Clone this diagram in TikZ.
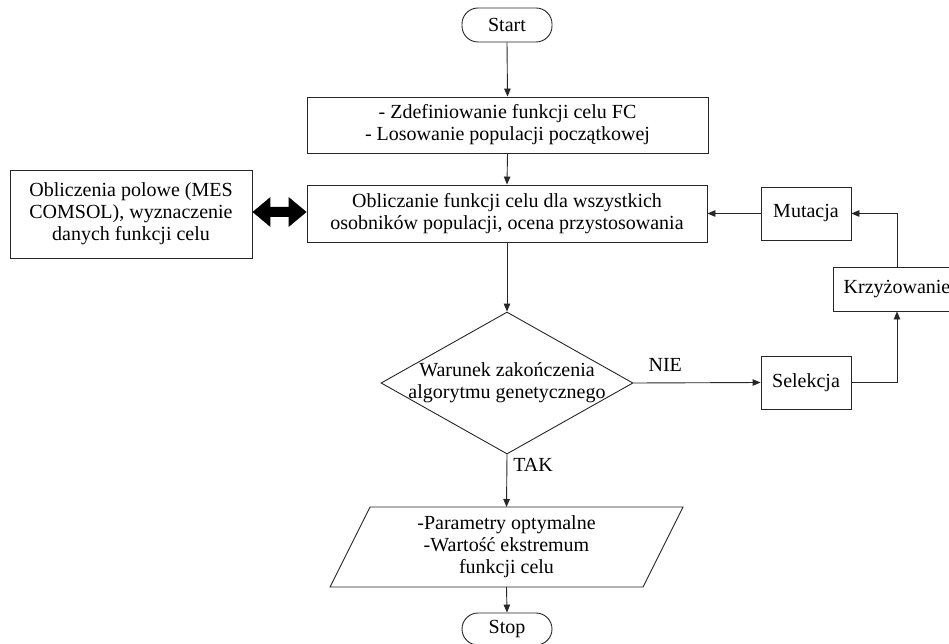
\documentclass[tikz,border=0pt]{standalone}
\usepackage{fontspec}
\setmainfont{Liberation Serif}
\usetikzlibrary{arrows.meta,calc,shapes.geometric}
\begin{document}
\begin{tikzpicture}[x=1pt,y=-1pt,
  every node/.style={font=\fontsize{20}{22}\selectfont, text=black},
  box/.style={draw=black!85, line width=0.9pt, rectangle, inner sep=0pt, align=center},
  pill/.style={draw=black!85, line width=0.9pt, rectangle, rounded corners=16pt, inner sep=0pt},
  conn/.style={draw=black!85, line width=0.9pt, -{Triangle[length=8pt,width=6.5pt]}},
  plain/.style={draw=black!85, line width=0.9pt},
  lbl/.style={inner sep=0pt}
]
\useasboundingbox (0,0) rectangle (949,644);
\clip (0,0) rectangle (949,644);

\node[pill, minimum width=90pt, minimum height=34pt] (start) at (507,25) {Start};
\node[box, minimum width=401pt, minimum height=56pt] (b1) at (507.5,125)
  {- Zdefiniowanie funkcji celu FC\\- Losowanie populacji początkowej};
\node[box, minimum width=400pt, minimum height=57pt] (b2) at (507,213.5)
  {Obliczanie funkcji celu dla wszystkich\\osobników populacji, ocena przystosowania};
\node[box, minimum width=242pt, minimum height=88pt] (L) at (131,214)
  {Obliczenia polowe (MES\\COMSOL), wyznaczenie\\danych funkcji celu};

\node[diamond, draw=black!85, line width=0.9pt, minimum width=252pt, minimum height=142pt, inner sep=0pt] (d) at (507,383) {};
\node[align=center, inner sep=0pt] (dt) at (507,383) {Warunek zakończenia\\algorytmu genetycznego};

\node[box, minimum width=90pt, minimum height=53pt] (sel) at (806,382.5) {Selekcja};
\node[box, minimum width=127pt, minimum height=44pt] (krz) at (897,289) {Krzyżowanie};
\node[box, minimum width=90pt, minimum height=53pt] (mut) at (806,213.5) {Mutacja};

\node[align=center, inner sep=0pt] (p) at (506.5,547) {-Parametry optymalne\\-Wartość ekstremum\\funkcji celu};
\draw[plain] ($(p)+(-136.5,-40)$) -- ($(p)+(176.5,-40)$) -- ($(p)+(136.5,40)$) -- ($(p)+(-176.5,40)$) -- cycle;
\coordinate (ptop) at ($(p)+(0,-40)$);
\coordinate (pbot) at ($(p)+(0,40)$);

\node[pill, minimum width=90pt, minimum height=32pt] (stop) at (507,629) {Stop};

% double block arrow between L and b2
\path (L.east) ++(0,-2) coordinate (da);
\path (da -| b2.west) coordinate (db);
\fill[black] (da) -- ($(da)+(18,-15)$) -- ($(da)+(18,-5)$) -- ($(db)+(-18,-5)$) -- ($(db)+(-18,-15)$)
  -- (db) -- ($(db)+(-18,15)$) -- ($(db)+(-18,5)$) -- ($(da)+(18,5)$) -- ($(da)+(18,15)$) -- cycle;

\draw[conn] (start.south) -- (b1.north);
\draw[conn] (b1.south) -- (b2.north);
\draw[conn] (b2.south) -- (d.north);
\draw[conn] (d.east) -- node[lbl, above=11pt, pos=0.25] (nie) {NIE} (sel.west);
\draw[conn] (sel.east) -| (krz.south);
\draw[conn] (krz.north) |- (mut.east);
\draw[conn] (mut.west) -- (mut.west -| b2.east);
\draw[conn] (d.south) -- node[lbl, right=6pt, pos=0.2] (tak) {TAK} (ptop);
\draw[conn] (pbot) -- (stop.north);
\end{tikzpicture}
\end{document}
